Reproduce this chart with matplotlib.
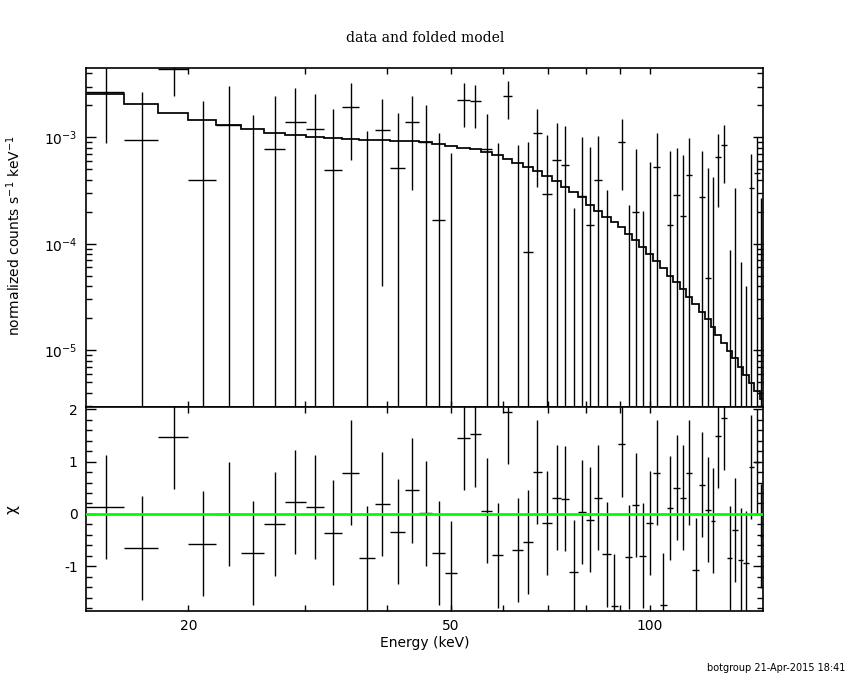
import numpy as np
import matplotlib
matplotlib.use("Agg")
import matplotlib.pyplot as plt
from matplotlib.ticker import FixedLocator, NullFormatter, FixedFormatter, LogLocator, MultipleLocator

plt.rcParams['mathtext.default'] = 'regular'
plt.rcParams['axes.unicode_minus'] = False

# energy bin edges (keV)
e_edges = [14.0, 16.0, 18.0, 20.0, 22.05, 24.05, 26.04, 28.0, 30.1, 32.1, 34.2, 36.3,
           38.3, 40.4, 42.6, 44.7, 46.8, 48.9, 51.1, 53.3, 55.5, 57.7, 59.9, 61.9,
           64.2, 66.4, 68.7, 71.1, 73.3, 75.5, 77.7, 80.1, 82.4, 84.7, 87.2, 89.4,
           91.7, 94.0, 96.2, 98.7, 101.1, 103.5, 106.0, 108.4, 111.0, 113.2, 115.8,
           118.6, 121.1, 123.5, 125.4, 128.3, 130.9, 133.3, 136.0, 138.5, 141.1,
           143.7, 146.5, 148.3]

# folded model (counts s-1 keV-1)
model = [2.534e-3, 2.068e-3, 1.680e-3, 1.444e-3, 1.313e-3, 1.204e-3, 1.104e-3, 1.051e-3,
         1.013e-3, 9.79e-4, 9.58e-4, 9.43e-4, 9.40e-4, 9.29e-4, 9.18e-4, 8.97e-4,
         8.71e-4, 8.34e-4, 7.99e-4, 7.71e-4, 7.32e-4, 6.78e-4, 6.30e-4, 5.77e-4,
         5.30e-4, 4.83e-4, 4.33e-4, 3.89e-4, 3.44e-4, 3.05e-4, 2.73e-4, 2.31e-4,
         2.05e-4, 1.80e-4, 1.59e-4, 1.43e-4, 1.24e-4, 1.08e-4, 9.27e-5, 8.02e-5,
         6.94e-5, 5.89e-5, 5.02e-5, 4.35e-5, 3.74e-5, 3.19e-5, 2.70e-5, 2.29e-5,
         1.95e-5, 1.66e-5, 1.39e-5, 1.18e-5, 9.91e-6, 8.41e-6, 7.02e-6, 5.90e-6,
         4.96e-6, 4.12e-6, 3.47e-6]

# data points
rate = [2.68e-3, 9.43e-4, 4.38e-3, 3.97e-4, 1.31e-3, -4.0e-5, 7.71e-4, 1.38e-3,
        1.19e-3, 4.90e-4, 1.91e-3, -1.24e-4, 1.16e-3, 5.12e-4, 1.38e-3, 8.97e-4,
        1.66e-4, -2.62e-4, 2.24e-3, 2.18e-3, 7.84e-4, -9.6e-5, 2.43e-3, -2.3e-5,
        8.32e-5, 1.10e-3, 2.92e-4, 6.12e-4, 5.46e-4, -5.83e-4, 2.83e-4, 1.50e-4,
        3.95e-4, -2.90e-4, -8.97e-4, 9.03e-4, -3.63e-4, 1.98e-4, -3.50e-4, -2.27e-5,
        5.23e-4, -8.98e-4, 1.51e-4, 2.85e-4, 1.82e-4, 4.40e-4, -5.08e-4, 2.75e-4,
        4.74e-5, -4.43e-5, 6.49e-4, 8.41e-4, -3.97e-4, -1.39e-4, -4.33e-4, -4.80e-4,
        3.34e-4, 4.59e-4, -1.88e-4]
rate_err = [1.80e-3, 1.70e-3, 1.92e-3, 1.80e-3, 1.72e-3, 1.66e-3, 1.67e-3, 1.52e-3,
            1.36e-3, 1.35e-3, 1.30e-3, 1.27e-3, 1.12e-3, 1.19e-3, 1.06e-3, 1.11e-3,
            9.31e-4, 9.70e-4, 1.00e-3, 9.50e-4, 8.71e-4, 9.80e-4, 9.47e-4, 8.70e-4,
            8.20e-4, 7.60e-4, 7.59e-4, 7.59e-4, 7.31e-4, 8.00e-4, 7.23e-4, 6.55e-4,
            6.33e-4, 6.10e-4, 6.00e-4, 5.80e-4, 5.94e-4, 5.73e-4, 5.53e-4, 6.05e-4,
            5.74e-4, 5.50e-4, 5.92e-4, 5.08e-4, 5.00e-4, 5.39e-4, 5.00e-4, 4.68e-4,
            4.71e-4, 4.68e-4, 4.28e-4, 4.65e-4, 4.84e-4, 4.75e-4, 5.00e-4, 5.20e-4,
            3.63e-4, 5.54e-4, 4.55e-4]

# residuals (data-model)/error
chi = [0.13, -0.65, 1.48, -0.57, 0.0, -0.75, -0.19, 0.23, 0.13, -0.36, 0.79, -0.84,
       0.19, -0.34, 0.45, 0.01, -0.75, -1.13, 1.46, 1.52, 0.06, -0.79, 1.95, -0.69,
       -0.54, 0.80, -0.17, 0.31, 0.29, -1.11, 0.04, -0.11, 0.31, -0.77, -1.76, 1.33,
       -0.82, 0.17, -0.80, -0.17, 0.79, -1.74, 0.11, 0.50, 0.31, 0.79, -1.07, 0.56,
       0.08, -0.13, 1.49, 1.84, -0.84, -0.31, -0.88, -0.94, 0.90, 1.00, -0.42]

x_ticks = [20, 50, 100]
x_tick_labels = ["20", "50", "100"]
x_minor = [30, 40, 60, 70, 80, 90]
chi_ticks = [-1, 0, 1, 2]

edges = np.array(e_edges)
lo, hi = edges[:-1], edges[1:]
cen = 0.5 * (lo + hi)
rate = np.array(rate)
err = np.array(rate_err)

fig = plt.figure(figsize=(8.5, 6.8), dpi=100)
ax1 = fig.add_axes([0.1012, 0.4019, 0.7965, 0.4977])
ax2 = fig.add_axes([0.1012, 0.1019, 0.7965, 0.3000])

# top panel: data + folded model
ax1.set_xscale('log')
ax1.set_yscale('log')
vis = rate > 0
ax1.hlines(rate[vis], lo[vis], hi[vis], color='k', lw=1)
top = rate + err
bot = np.clip(rate - err, 1e-9, None)
up = top > 0
ax1.vlines(cen[up], bot[up], top[up], color='k', lw=1)
ax1.stairs(model, edges, baseline=None, color='k', lw=1.25)
ax1.set_ylim(2.95e-6, 4.45e-3)
ax1.yaxis.set_major_locator(LogLocator(base=10, numticks=10))
ax1.yaxis.set_minor_locator(LogLocator(base=10, subs=np.arange(2, 10), numticks=20))
ax1.yaxis.set_minor_formatter(NullFormatter())

# bottom panel: residuals
ax2.set_xscale('log')
ax2.errorbar(cen, chi, xerr=[cen - lo, hi - cen], yerr=1, fmt='none',
             ecolor='k', elinewidth=1, capsize=0)
ax2.axhline(0, color='#00ff00', lw=2, zorder=3)
ax2.set_ylim(-1.85, 2.05)
ax2.yaxis.set_major_locator(FixedLocator(chi_ticks))
ax2.yaxis.set_minor_locator(MultipleLocator(0.2))

for ax in (ax1, ax2):
    ax.set_xlim(14.0, 148.3)
    ax.xaxis.set_major_locator(FixedLocator(x_ticks))
    ax.xaxis.set_major_formatter(FixedFormatter(x_tick_labels))
    ax.xaxis.set_minor_locator(FixedLocator(x_minor))
    ax.xaxis.set_minor_formatter(NullFormatter())
    ax.tick_params(which='both', direction='in', top=True, right=True, width=1,
                   labelsize=10, pad=6)
    ax.tick_params(which='major', length=7)
    ax.tick_params(which='minor', length=4)
    for s in ax.spines.values():
        s.set_linewidth(1.2)
ax1.tick_params(labelbottom=False)
ax1.tick_params(axis='x', which='major', length=4)
ax2.tick_params(axis='x', which='major', length=4)

fig.text(0.5, 0.944, "data and folded model", ha='center', va='center', fontsize=10,
         family='DejaVu Serif')
fig.text(0.5, 0.054, "Energy (keV)", ha='center', va='center', fontsize=10)
fig.text(0.016, 0.654, r"normalized counts s$^{-1}$ keV$^{-1}$", rotation=90,
         ha='center', va='center', fontsize=10)
fig.text(0.016, 0.25, r"$\chi$", rotation=90, ha='center', va='center', fontsize=11)
fig.text(0.995, 0.017, "botgroup 21-Apr-2015 18:41", ha='right', va='center', fontsize=7)

fig.savefig("out.png", dpi=100)
